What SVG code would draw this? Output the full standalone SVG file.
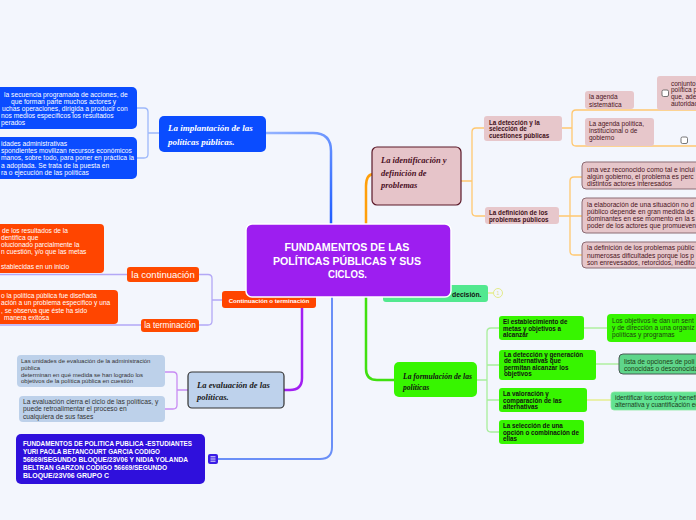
<svg xmlns="http://www.w3.org/2000/svg" width="696" height="520" viewBox="0 0 696 520">
<defs>
<style>
.s{font-family:"Liberation Sans",Arial,sans-serif}
.w{fill:#fff}
.b{font-weight:bold}
.bl{font-family:"Liberation Serif","Times New Roman",serif;font-style:italic;font-weight:bold}
.c{fill:none;stroke-linecap:round;stroke-linejoin:round}
.pk{fill:#e7c7cb}
.pkb{fill:#e6c6ca;stroke:#8c6c74;stroke-width:1}
.mr{fill:#4a1422}
.gr{fill:#37f500}
.bk{fill:#111}
.f67{font-size:6.7px}
.f63{font-size:6.3px}
.chk{fill:#fff;stroke:#555;stroke-width:0.8}
</style>
<linearGradient id="gb" gradientUnits="userSpaceOnUse" x1="266" y1="133" x2="331" y2="224">
<stop offset="0" stop-color="#94b3ff"/><stop offset="1" stop-color="#1d5cff"/>
</linearGradient>
</defs>
<rect width="696" height="520" fill="#f3f6fd"/>

<g id="connectors" class="c">
<path d="M266,133 H313 Q331,133 331,151 V224" stroke="url(#gb)" stroke-width="2.5"/>
<path d="M366,224 V186 Q366,174 374,174" stroke="#ff9f0a" stroke-width="2.5"/>
<path d="M332,297 V447 Q332,459 320,459 H218" stroke="#6a8ff7" stroke-width="2"/>
<path d="M302,297 V378 Q302,390 290,390 H284" stroke="#a21ff2" stroke-width="2.5"/>
<path d="M366,297 V369 Q366,380 377,380 H394" stroke="#40e010" stroke-width="2.5"/>
<path d="M159,133 H148 M137,108 H144 Q148,108 148,112 V154 Q148,158 144,158 H137" stroke="#9db8fa" stroke-width="1.3"/>
<path d="M222,300 H212 M199,274.5 H208 Q212,274.5 212,278.5 V321 Q212,325 208,325 H199 M127,274.5 H0 M141,325 H0" stroke="#b3a8f6" stroke-width="1.3"/>
<path d="M188,390 H177 M165,372 H173 Q177,372 177,376 V405 Q177,409 173,409 H165" stroke="#c88cf3" stroke-width="1.3"/>
<path d="M461,181 H472 M484,128 H476 Q472,128 472,132 V212 Q472,216 476,216 H485" stroke="#ffc870" stroke-width="1.3"/>
<path d="M562,128 H572 M696,110 H576 Q572,110 572,114 V142 Q572,146 576,146 H696" stroke="#ffc870" stroke-width="1.3"/>
<path d="M559,216 H582 M582,177 H574 Q570,177 570,181 V251 Q570,255 574,255 H582" stroke="#ffc870" stroke-width="1.3"/>
<path d="M477,380 H487 M499,328 H491 Q487,328 487,332 V428 Q487,432 491,432 H499 M487,365 H499 M487,400 H499" stroke="#a8ee9c" stroke-width="1.3"/>
<path d="M584,328 H607 M596,364 H619" stroke="#b0f0a0" stroke-width="1.3"/>
<path d="M587,400 H611 M488,293 H494" stroke="#e6ee90" stroke-width="1.3"/>
</g>

<g id="n-implantacion">
<rect x="159" y="116" width="107" height="36" rx="5" fill="#0a4cff"/>
<text class="bl w" font-size="9" x="168" y="131">La implantación de las</text>
<text class="bl w" font-size="9" x="168" y="145">políticas públicas.</text>
</g>
<g id="n-impl-1" class="s w f67">
<rect x="-10" y="87" width="147" height="42" rx="5" fill="#0a4cff"/>
<text x="4" y="96.5">la secuencia programada de acciones, de</text>
<text x="11" y="103.5">que forman parte muchos actores y</text>
<text x="2" y="110.5">uchas operaciones, dirigida a producir con</text>
<text x="1" y="117.5">nos medios específicos los resultados</text>
<text x="1" y="124.5">perados</text>
</g>
<g id="n-impl-2" class="s w f67">
<rect x="-10" y="137" width="147" height="42" rx="5" fill="#0a4cff"/>
<text x="1" y="145.5">idades administrativas</text>
<text x="1" y="153">spondientes movilizan recursos económicos</text>
<text x="1" y="160.3">manos, sobre todo, para poner en práctica la</text>
<text x="1" y="167.7">a adoptada. Se trata de la puesta en</text>
<text x="1" y="175">ra o ejecución de las políticas</text>
</g>

<g id="n-cont-a" class="s w" font-size="6.6">
<rect x="-10" y="224" width="114" height="49" rx="4" fill="#ff4500"/>
<text x="2" y="232.5">de los resultados de la</text>
<text x="1" y="239.8">dentifica que</text>
<text x="1" y="247.1">olucionado parcialmente la</text>
<text x="1" y="254.4">n cuestión, y/o que las metas</text>
<text x="1" y="269">stablecidas en un inicio</text>
</g>
<g id="n-cont-b" class="s w" font-size="6.6">
<rect x="-10" y="290" width="128" height="34" rx="4" fill="#ff4500"/>
<text x="1" y="298">o la política pública fue diseñada</text>
<text x="1" y="305.3">ación a un problema específico y una</text>
<text x="1" y="312.7">, se observa que éste ha sido</text>
<text x="4" y="320">manera exitosa</text>
</g>
<g id="n-continuacion">
<rect x="127" y="267" width="72" height="15" rx="3" fill="#ff4a00"/>
<text class="s w" font-size="9.5" x="163" y="278" text-anchor="middle">la continuación</text>
</g>
<g id="n-terminacion">
<rect x="141" y="319" width="58" height="13" rx="3" fill="#ff4a00"/>
<text class="s w" font-size="8.3" x="170" y="328" text-anchor="middle">la terminación</text>
</g>
<g id="n-cont-term">
<rect x="222" y="291" width="94" height="17" rx="3" fill="#ff4500"/>
<text class="s w b" font-size="6.1" x="269" y="302.5" text-anchor="middle">Continuación o terminación</text>
</g>

<g id="n-decision">
<rect x="383" y="285" width="105" height="17" rx="3" fill="#52e88f"/>
<text class="s b bk" font-size="6.8" x="452" y="296.5">decisión.</text>
<circle cx="498" cy="293" r="4.5" fill="#f3f6fd" stroke="#e3eb8a" stroke-width="1"/>
<text class="s" font-size="5" fill="#dcdc90" x="498" y="294.8" text-anchor="middle">1</text>
</g>

<g id="n-center">
<rect x="246" y="224" width="205" height="73" rx="6" fill="#9d1ef0" stroke="#fff" stroke-width="1.5"/>
<text class="s w b" font-size="11.5" x="347" y="251" text-anchor="middle" textLength="125" lengthAdjust="spacingAndGlyphs">FUNDAMENTOS DE LAS</text>
<text class="s w b" font-size="11.5" x="347" y="264.5" text-anchor="middle" textLength="148" lengthAdjust="spacingAndGlyphs">POLÍTICAS PÚBLICAS Y SUS</text>
<text class="s w b" font-size="11.5" x="347.5" y="278" text-anchor="middle" textLength="39" lengthAdjust="spacingAndGlyphs">CICLOS.</text>
</g>

<g id="n-evaluacion">
<rect x="188" y="372" width="96" height="36" rx="4" fill="#bed2ec" stroke="#333" stroke-width="1.2"/>
<text class="bl" font-size="8.6" fill="#1a1a1a" x="197" y="388">La evaluación de las</text>
<text class="bl" font-size="8.6" fill="#1a1a1a" x="197" y="400">políticas.</text>
</g>
<g id="n-eval-1" class="s" font-size="6" fill="#333">
<rect x="17" y="355" width="148" height="32" rx="4" fill="#bdd1ea"/>
<text x="21" y="363">Las unidades de evaluación de la administración</text>
<text x="21" y="369.8">pública</text>
<text x="21" y="376.6">determinan en qué medida se han logrado los</text>
<text x="21" y="383.4">objetivos de la política pública en cuestión</text>
</g>
<g id="n-eval-2" class="s f67" fill="#333">
<rect x="19" y="396" width="146" height="26" rx="4" fill="#bdd1ea"/>
<text x="23" y="404">La evaluación cierra el ciclo de las políticas, y</text>
<text x="23" y="411.3">puede retroalimentar el proceso en</text>
<text x="23" y="418.6">cualquiera de sus fases</text>
</g>

<g id="n-fundamentos" class="s w b" font-size="7.4">
<rect x="16" y="434" width="189" height="50" rx="5" fill="#2f10dc"/>
<text x="23" y="446" textLength="169" lengthAdjust="spacingAndGlyphs">FUNDAMENTOS DE POLITICA PUBLICA -ESTUDIANTES</text>
<text x="23" y="454" textLength="137" lengthAdjust="spacingAndGlyphs">YURI PAOLA BETANCOURT GARCIA CODIGO</text>
<text x="23" y="462" textLength="165" lengthAdjust="spacingAndGlyphs">56669/SEGUNDO BLOQUE/23V06 Y NIDIA YOLANDA</text>
<text x="23" y="470" textLength="144" lengthAdjust="spacingAndGlyphs">BELTRAN GARZON  CODIGO 56669/SEGUNDO</text>
<text x="23" y="478" textLength="86" lengthAdjust="spacingAndGlyphs">BLOQUE/23V06  GRUPO  C</text>
<rect x="208" y="454" width="10" height="10" rx="2" fill="#3a1de6"/>
<path d="M210.5,456.8 H215.5 M210.5,459 H215.5 M210.5,461.2 H215.5" stroke="#fff" stroke-width="0.9" fill="none"/>
</g>

<g id="n-identificacion">
<rect x="372" y="147" width="89" height="58" rx="5" fill="#e6c4c9" stroke="#5a1828" stroke-width="1.2"/>
<text class="bl" font-size="8.5" fill="#4a0f1f" x="381" y="163">La identificación y</text>
<text class="bl" font-size="8.5" fill="#4a0f1f" x="381" y="176">definición de</text>
<text class="bl" font-size="8.5" fill="#4a0f1f" x="381" y="188">problemas</text>
</g>
<g id="n-deteccion" class="s b f63" fill="#3f1019">
<rect x="484" y="116" width="78" height="25" rx="3" class="pk"/>
<text x="489" y="124.5">La detección y la</text>
<text x="489" y="131.2">selección de</text>
<text x="489" y="137.9">cuestiones públicas</text>
</g>
<g id="n-agenda-sis" class="s mr" font-size="6.5">
<rect x="585" y="91" width="49" height="18" rx="3" class="pk"/>
<text x="589" y="99">la agenda</text>
<text x="589" y="106.5">sistemática</text>
</g>
<g id="n-conjunto" class="s mr" font-size="6.5">
<rect x="657" y="76" width="60" height="34" rx="3" class="pk"/>
<rect x="662" y="90" width="6.5" height="6.5" rx="1.5" class="chk"/>
<text x="671" y="85.5">conjunto</text>
<text x="671" y="92.2">política p</text>
<text x="671" y="98.9">que, ade</text>
<text x="671" y="105.6">autoridad</text>
</g>
<g id="n-agenda-pol" class="s mr" font-size="6.5">
<rect x="585" y="118" width="69" height="28" rx="3" class="pk"/>
<text x="589" y="125.5">La agenda política,</text>
<text x="589" y="132.5">institucional o de</text>
<text x="589" y="139.5">gobierno</text>
</g>
<g id="n-agenda-pol-child">
<rect x="681" y="137" width="6.5" height="6.5" rx="1.5" class="chk"/>
</g>
<g id="n-definicion" class="s b f63" fill="#3f1019">
<rect x="485" y="207" width="74" height="17" rx="3" class="pk"/>
<text x="489" y="215.3">La definición de los</text>
<text x="489" y="221.8">problemas públicos</text>
</g>
<g id="n-def-1" class="s mr f67">
<rect x="582" y="162" width="130" height="27" rx="4" class="pkb"/>
<text x="587" y="171.5">una vez reconocido como tal e inclui</text>
<text x="587" y="178.5">algún gobierno, el problema es perc</text>
<text x="587" y="185.5">distintos actores interesados</text>
</g>
<g id="n-def-2" class="s mr f67">
<rect x="582" y="198" width="130" height="35" rx="4" class="pkb"/>
<text x="587" y="207.3">la elaboración de una situación no d</text>
<text x="587" y="214.1">público depende en gran medida de</text>
<text x="587" y="220.9">dominantes en ese momento en la s</text>
<text x="587" y="227.7">poder de los actores que promueven</text>
</g>
<g id="n-def-3" class="s mr f67">
<rect x="582" y="242" width="130" height="26" rx="4" class="pkb"/>
<text x="587" y="250">la definición de los problemas públic</text>
<text x="587" y="257.5">numerosas dificultades porque los p</text>
<text x="587" y="265">son enrevesados, retorcidos, inédito</text>
</g>

<g id="n-formulacion">
<rect x="394" y="362" width="83" height="35" rx="5" class="gr"/>
<text class="bl bk" font-size="7.6" x="403" y="378.5">La formulación de las</text>
<text class="bl bk" font-size="7.6" x="403" y="390">políticas</text>
</g>
<g id="n-form-1" class="s b f63 bk">
<rect x="499" y="316" width="85" height="24" rx="3" class="gr"/>
<text x="503" y="324.2">El establecimiento de</text>
<text x="503" y="330.7">metas y objetivos a</text>
<text x="503" y="337.2">alcanzar</text>
</g>
<g id="n-form-1a" class="s" font-size="6.6" fill="#1e3d14">
<rect x="607" y="314" width="100" height="28" rx="4" class="gr"/>
<text x="612" y="323.3">Los objetivos le dan un sent</text>
<text x="612" y="330.3">y de dirección a una organiz</text>
<text x="612" y="337.3">políticas y programas</text>
</g>
<g id="n-form-2" class="s b f63 bk">
<rect x="499" y="350" width="97" height="30" rx="3" class="gr"/>
<text x="504" y="357">La detección y generación</text>
<text x="504" y="363.3">de alternativas que</text>
<text x="504" y="369.6">permitan alcanzar los</text>
<text x="504" y="376">objetivos</text>
</g>
<g id="n-form-2a" class="s" font-size="6.6" fill="#1e3d14">
<rect x="619" y="354" width="90" height="20" rx="4" fill="#5fd58a" stroke="#4a5a55" stroke-width="1"/>
<text x="624" y="364">lista de opciones de poli</text>
<text x="624" y="371">conocidas o desconocida</text>
</g>
<g id="n-form-3" class="s b f63 bk">
<rect x="499" y="388" width="88" height="24" rx="3" class="gr"/>
<text x="503" y="396">La valoración y</text>
<text x="503" y="402.5">comparación de las</text>
<text x="503" y="409">alternativas</text>
</g>
<g id="n-form-3a" class="s" font-size="6.4" fill="#1c3a1c">
<rect x="611" y="392" width="100" height="18" rx="3" fill="#62e292" stroke="#8be8a0" stroke-width="0.8"/>
<text x="615" y="400">identificar los costos y benefi</text>
<text x="615" y="406.5">alternativa y cuantificación ec</text>
</g>
<g id="n-form-4" class="s b f63 bk">
<rect x="499" y="420" width="85" height="24" rx="3" class="gr"/>
<text x="503" y="428.2">La selección de una</text>
<text x="503" y="434.8">opción o combinación de</text>
<text x="503" y="441.3">ellas</text>
</g>
</svg>
